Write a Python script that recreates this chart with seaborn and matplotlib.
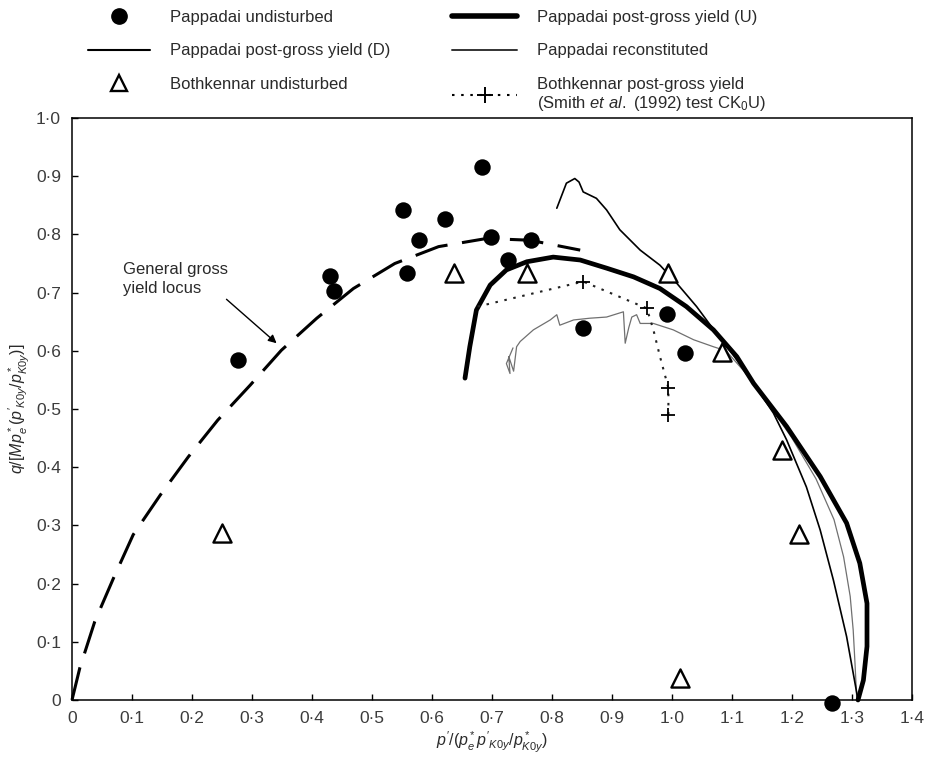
import numpy as np
import pandas as pd
import matplotlib
matplotlib.use("Agg")
import matplotlib.pyplot as plt
from matplotlib.lines import Line2D
import seaborn as sns

# ---------------- data ----------------
# Pappadai undisturbed (filled circles)
pap_und_x = [0.277, 0.430, 0.436, 0.551, 0.558, 0.579, 0.621, 0.683, 0.698, 0.726, 0.765, 0.852, 0.991, 1.021, 1.267]
pap_und_y = [0.585, 0.728, 0.702, 0.842, 0.734, 0.790, 0.826, 0.915, 0.795, 0.756, 0.790, 0.639, 0.663, 0.596, -0.005]

# Bothkennar undisturbed (open triangles)
both_und_x = [0.250, 0.636, 0.759, 0.994, 1.084, 1.183, 1.212, 1.013]
both_und_y = [0.287, 0.733, 0.733, 0.733, 0.598, 0.430, 0.285, 0.037]

# General gross yield locus (dashed)
locus_x = [0.0, 0.013, 0.038, 0.069, 0.102, 0.147, 0.194, 0.243, 0.297, 0.349, 0.408, 0.469, 0.538, 0.611, 0.691, 0.763, 0.847]
locus_y = [0.0, 0.055, 0.135, 0.209, 0.284, 0.352, 0.418, 0.481, 0.541, 0.601, 0.656, 0.707, 0.750, 0.779, 0.793, 0.790, 0.773]

# Pappadai post-gross yield (U) - thick
pgU_x = [0.655, 0.663, 0.674, 0.697, 0.724, 0.758, 0.802, 0.847, 0.891, 0.936, 0.980, 1.024, 1.069, 1.108,
         1.136, 1.191, 1.247, 1.291, 1.313, 1.325, 1.325, 1.319, 1.310]
pgU_y = [0.553, 0.607, 0.670, 0.713, 0.739, 0.753, 0.761, 0.756, 0.742, 0.727, 0.707, 0.676, 0.636, 0.590,
         0.544, 0.470, 0.384, 0.304, 0.235, 0.166, 0.092, 0.034, 0.000]

# Pappadai post-gross yield (D) - thin
pgD_x = [0.808, 0.824, 0.838, 0.845, 0.852, 0.874, 0.891, 0.913, 0.947, 0.980, 1.008, 1.041, 1.074, 1.102,
         1.135, 1.169, 1.191, 1.224, 1.247, 1.269, 1.291, 1.305, 1.310]
pgD_y = [0.845, 0.888, 0.896, 0.890, 0.873, 0.862, 0.842, 0.808, 0.773, 0.747, 0.716, 0.676, 0.630, 0.593,
         0.545, 0.493, 0.447, 0.366, 0.292, 0.206, 0.109, 0.029, 0.000]

# Pappadai reconstituted - thin grey
rec_x = [0.735, 0.724, 0.730, 0.728, 0.736, 0.741, 0.747, 0.769, 0.797, 0.808, 0.813, 0.836, 0.863, 0.891,
         0.919, 0.922, 0.928, 0.933, 0.941, 0.947, 0.969, 1.002, 1.036, 1.069, 1.090, 1.120, 1.160, 1.200,
         1.240, 1.270, 1.286, 1.297, 1.302, 1.305, 1.308]
rec_y = [0.605, 0.578, 0.561, 0.590, 0.565, 0.607, 0.616, 0.636, 0.653, 0.662, 0.644, 0.653, 0.656, 0.658,
         0.667, 0.613, 0.640, 0.658, 0.662, 0.647, 0.647, 0.636, 0.619, 0.607, 0.600, 0.565, 0.510, 0.450,
         0.380, 0.310, 0.246, 0.178, 0.120, 0.063, 0.000]

# Bothkennar post-gross yield (dotted path + plus markers)
bpg_x = [0.676, 0.852, 0.958, 0.969, 0.980, 0.994, 0.994]
bpg_y = [0.676, 0.719, 0.673, 0.636, 0.590, 0.536, 0.490]
bpg_plus_x = [0.852, 0.958, 0.994, 0.994]
bpg_plus_y = [0.719, 0.673, 0.536, 0.490]

tick_vals_x = [0.0, 0.1, 0.2, 0.3, 0.4, 0.5, 0.6, 0.7, 0.8, 0.9, 1.0, 1.1, 1.2, 1.3, 1.4]
tick_labels_x = ["0", "0·1", "0·2", "0·3", "0·4", "0·5", "0·6", "0·7", "0·8", "0·9", "1·0", "1·1", "1·2", "1·3", "1·4"]
tick_vals_y = [0.0, 0.1, 0.2, 0.3, 0.4, 0.5, 0.6, 0.7, 0.8, 0.9, 1.0]
tick_labels_y = ["0", "0·1", "0·2", "0·3", "0·4", "0·5", "0·6", "0·7", "0·8", "0·9", "1·0"]

legend_labels = ["Pappadai undisturbed", "Pappadai post-gross yield (D)", "Bothkennar undisturbed",
                 "Pappadai post-gross yield (U)", "Pappadai reconstituted",
                 "Bothkennar post-gross yield\n(Smith $\\it{et\\ al.}$ (1992) test CK$_0$U)"]

# ---------------- style ----------------
sns.set_theme(style="white")
FONT = ["Liberation Sans", "DejaVu Sans"]
plt.rcParams["font.family"] = FONT
plt.rcParams["mathtext.fontset"] = "custom"
plt.rcParams["mathtext.it"] = "Liberation Sans:italic"
plt.rcParams["mathtext.rm"] = "Liberation Sans"
plt.rcParams["mathtext.sf"] = "Liberation Sans"
TXT = "#2a2a2a"

fig = plt.figure(figsize=(9.25, 7.6), dpi=100)
ax = fig.add_axes([72 / 925, 60 / 760, 840 / 925, 582 / 760])

# curves
sns.lineplot(x=locus_x, y=locus_y, sort=False, estimator=None, ax=ax, color="black", lw=2.2)
ax.lines[-1].set_linestyle((0, (11, 4.8)))
sns.lineplot(x=rec_x, y=rec_y, sort=False, estimator=None, ax=ax, color="#707070", lw=0.9)
sns.lineplot(x=pgD_x, y=pgD_y, sort=False, estimator=None, ax=ax, color="black", lw=1.2)
sns.lineplot(x=pgU_x, y=pgU_y, sort=False, estimator=None, ax=ax, color="black", lw=3.4)
sns.lineplot(x=bpg_x, y=bpg_y, sort=False, estimator=None, ax=ax, color="#222222", lw=1.5)
ax.lines[-1].set_linestyle((0, (1.2, 3.2)))
for ln in ax.lines:
    ln.set_clip_on(False)

# markers
sns.scatterplot(x=bpg_plus_x, y=bpg_plus_y, ax=ax, marker="+", s=110, color="black", linewidth=1.3, zorder=5)
sns.scatterplot(x=pap_und_x, y=pap_und_y, ax=ax, marker="o", s=140, color="black", edgecolor="black",
                linewidth=0, zorder=6, clip_on=False)
sns.scatterplot(x=both_und_x, y=both_und_y, ax=ax, marker="^", s=170, facecolor="white", edgecolor="black",
                linewidth=1.7, zorder=6, clip_on=False)

# axes
ax.set_xlim(0, 1.4)
ax.set_ylim(0, 1.0)
ax.set_xticks(tick_vals_x)
ax.set_xticklabels(tick_labels_x)
ax.set_yticks(tick_vals_y)
ax.set_yticklabels(tick_labels_y)
ax.tick_params(direction="in", length=4, width=1, colors="black", labelcolor="#3c3c3c", labelsize=12.5,
               bottom=True, left=True, top=False, right=False)
ax.tick_params(axis="x", pad=8)
ax.tick_params(axis="y", pad=8)
for sp in ax.spines.values():
    sp.set_visible(True)
    sp.set_color("black")
    sp.set_linewidth(1.1)
ax.grid(False)

ax.set_xlabel(r"$p'/(p^*_e p'_{K0y}/p^*_{K0y})$", fontsize=11.5, color=TXT, labelpad=3)
ax.set_ylabel(r"$q/[Mp^*_e(p'_{K0y}/p^*_{K0y})]$", fontsize=11.5, color=TXT, labelpad=3)

# annotation
ax.annotate("General gross\nyield locus", xy=(0.341, 0.613), xytext=(0.085, 0.723),
            fontsize=12, color=TXT, ha="left", va="center", linespacing=1.3,
            arrowprops=dict(arrowstyle="-|>", color="black", lw=1.0, mutation_scale=12,
                            shrinkA=0, shrinkB=0, relpos=(0.95, 0.0)))

# legend (two columns as two legends)
h1 = [Line2D([], [], marker="o", color="black", ls="none", markersize=11),
      Line2D([], [], color="black", lw=1.5),
      Line2D([], [], marker="^", markerfacecolor="white", markeredgecolor="black", markeredgewidth=1.7,
             ls="none", markersize=12)]
h2 = [Line2D([], [], color="black", lw=4.0),
      Line2D([], [], color="#333333", lw=1.4),
      Line2D([], [], color="black", lw=1.5, ls=(0, (1.2, 3.2)), marker="+", markersize=12,
             markeredgewidth=1.4, markevery=[1])]
common = dict(frameon=False, fontsize=12, borderpad=0, borderaxespad=0, handletextpad=1.2,
              labelspacing=1.1, loc="upper left", bbox_transform=fig.transFigure, labelcolor=TXT)
leg1 = fig.legend(h1, legend_labels[:3], bbox_to_anchor=(88 / 925, 1 - 10 / 760), handlelength=3.7, **common)
leg2 = fig.legend(h2, legend_labels[3:], bbox_to_anchor=(452 / 925, 1 - 10 / 760), handlelength=3.9, **common)

fig.savefig("out.png", dpi=100)
